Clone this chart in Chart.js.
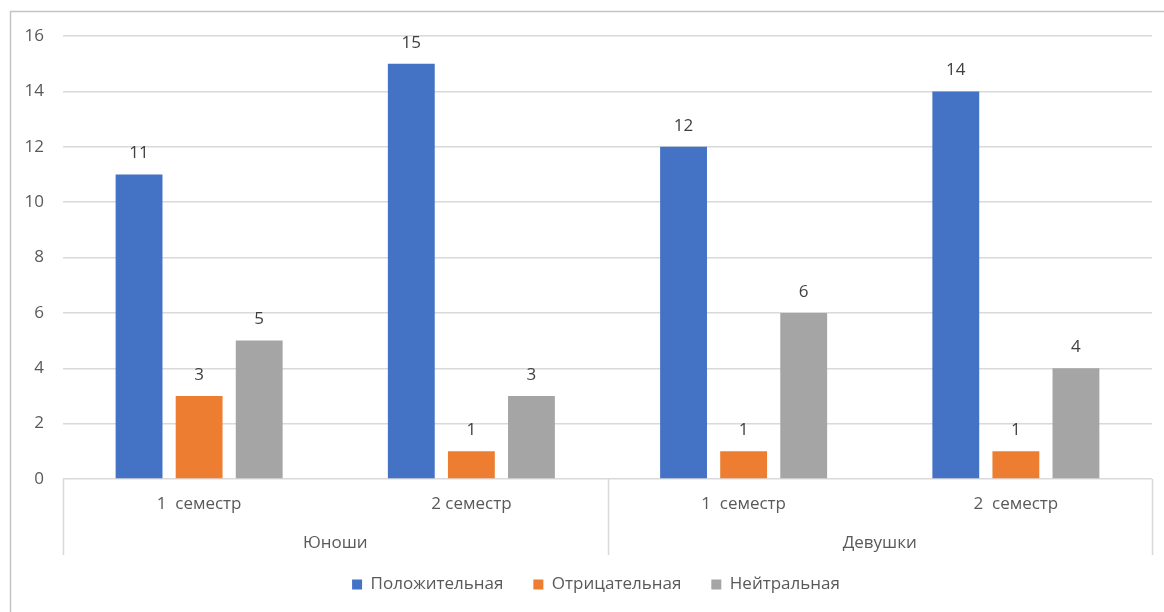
<!DOCTYPE html>
<html>
<head>
<meta charset="utf-8">
<script src="https://cdn.jsdelivr.net/npm/chart.js@4/dist/chart.umd.min.js"></script>
<style>
  html, body { margin: 0; padding: 0; background: #fff; }
  canvas { display: block; }
</style>
</head>
<body>
<canvas id="c" width="1164" height="612"></canvas>
<script>
const categories = ['1  семестр', '2 семестр', '1  семестр', '2  семестр'];
const groups = ['Юноши', 'Девушки'];
const seriesNames = ['Положительная', 'Отрицательная', 'Нейтральная'];
const positive = [11, 15, 12, 14];
const negative = [3, 1, 1, 1];
const neutral = [5, 3, 6, 4];
const yTicks = [0, 2, 4, 6, 8, 10, 12, 14, 16];

const FONT = "'Open Sans', 'Noto Sans', sans-serif";
const FS = 17;
const TEXT = '#595959';
const GRID = '#d9d9d9';

const frame = {
  id: 'frame',
  beforeDraw(chart) {
    const ctx = chart.ctx;
    ctx.save();
    ctx.fillStyle = '#fff';
    ctx.fillRect(0, 0, chart.width, chart.height);
    ctx.strokeStyle = '#c4c4c4';
    ctx.lineWidth = 1.5;
    ctx.strokeRect(10.5, 11.5, 1300, 800);
    ctx.restore();
  }
};

const legendShift = {
  id: 'legendShift',
  afterLayout(chart) {
    const lg = chart.legend;
    if (!lg) return;
    lg.top -= 10; lg.bottom -= 10;
    lg.left += 10; lg.right += 10;
  }
};

const valueLabels = {
  id: 'valueLabels',
  afterDatasetsDraw(chart) {
    const ctx = chart.ctx;
    ctx.save();
    ctx.font = FS + 'px ' + FONT;
    ctx.fillStyle = '#404040';
    ctx.textAlign = 'center';
    ctx.textBaseline = 'middle';
    chart.data.datasets.forEach((ds, i) => {
      chart.getDatasetMeta(i).data.forEach((bar, j) => {
        ctx.fillText(String(ds.data[j]), bar.x, bar.y - 21);
      });
    });
    ctx.restore();
  }
};

const separators = {
  id: 'separators',
  afterDraw(chart) {
    const x = chart.scales.x;
    const ctx = chart.ctx;
    const top = chart.chartArea.bottom;
    const bottom = top + 76;
    const mid = (x.getPixelForValue(1) + x.getPixelForValue(2)) / 2;
    ctx.save();
    ctx.strokeStyle = GRID;
    ctx.lineWidth = 1.5;
    [x.left, mid, x.right].forEach(px => {
      ctx.beginPath();
      ctx.moveTo(Math.round(px) + 0.5, top);
      ctx.lineTo(Math.round(px) + 0.5, bottom);
      ctx.stroke();
    });
    ctx.restore();
  }
};

new Chart(document.getElementById('c'), {
  type: 'bar',
  data: {
    labels: categories,
    datasets: [
      { label: seriesNames[0], data: positive, backgroundColor: '#4472C4' },
      { label: seriesNames[1], data: negative, backgroundColor: '#ED7D31' },
      { label: seriesNames[2], data: neutral, backgroundColor: '#A5A5A5' }
    ]
  },
  options: {
    responsive: false,
    animation: false,
    devicePixelRatio: 1,
    categoryPercentage: 0.662,
    barPercentage: 0.78,
    layout: { padding: { left: 20, right: 12, top: 36, bottom: -1 } },
    plugins: {
      tooltip: { enabled: false },
      legend: {
        position: 'bottom',
        labels: {
          boxWidth: 10,
          boxHeight: 10,
          padding: 30,
          color: TEXT,
          font: { family: FONT, size: FS }
        }
      }
    },
    scales: {
      x: {
        weight: 0,
        grid: { display: false, drawTicks: false },
        border: { display: false },
        ticks: { color: TEXT, font: { family: FONT, size: FS }, padding: 15, maxRotation: 0, autoSkip: false },
        afterFit(s) { s.height = 41; }
      },
      x2: {
        type: 'category',
        labels: groups,
        position: 'bottom',
        weight: 1,
        offset: true,
        grid: { display: false, drawTicks: false },
        border: { display: false },
        ticks: { color: TEXT, font: { family: FONT, size: FS }, padding: 13, maxRotation: 0, autoSkip: false },
        afterFit(s) { s.height = 36; }
      },
      y: {
        min: 0,
        max: 16,
        afterBuildTicks(s) { s.ticks = yTicks.map(v => ({ value: v })); },
        grid: { color: GRID, lineWidth: 1.5, drawTicks: false },
        border: { display: false },
        ticks: { color: TEXT, font: { family: FONT, size: FS }, padding: 19 },
        afterFit(s) { s.width = 43; }
      }
    }
  },
  plugins: [frame, legendShift, valueLabels, separators]
});
</script>
</body>
</html>
